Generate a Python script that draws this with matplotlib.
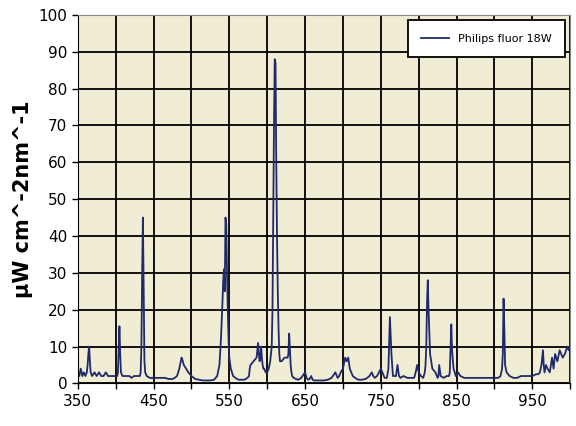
import matplotlib
matplotlib.use("Agg")
import matplotlib.pyplot as plt

spectrum = [
(350,3),(352,2),(354,4),(356,2),(358,3),(360,2),(362,3),(363,5),(364,8),(365,10),(366,6),(367,3),
(369,2),(372,3),(375,2),(378,3),(381,2),(384,2),(387,3),(390,2),(393,2),(396,2),(399,2),(402,2),
(403,3),(404,9),(405,15.5),(406,8),(407,3),(409,2),(412,2),(415,2),(418,2),(421,1.5),(424,2),(427,2),
(430,2),(432,2),(433,3),(434,10),(435,30),(436,45),(437,25),(438,6),(439,3),(441,2),(445,1.5),(450,1.5),
(455,1.5),(460,1.5),(465,1.5),(470,1.2),(475,1.2),(478,1.5),(481,2),(484,4),(486,6),(487,7),(488,6.5),
(490,5),(493,4),(496,3),(500,2),(505,1.2),(510,1),(515,0.8),(520,0.8),(525,0.8),(530,1),(534,2),
(537,5),(539,12),(541,22),(542,28),(543,31),(544,25),(545,45),(546,43),(547,30),(548,20),(549,12),
(550,7),(552,4),(555,2),(558,1.5),(562,1),(566,1),(570,1),(574,1.5),(576,2),(577,4),(578,5),(580,5.5),
(582,6),(584,6.5),(586,7),(587,9),(588,11),(589,8),(590,6),(591,7),(592,10),(593,7),(594,5),(595,4),
(596,4),(598,3),(600,3),(602,4),(604,6),(606,10),(607,20),(608,45),(609,70),(610,88),(611,87),(612,60),
(613,40),(614,25),(615,15),(616,8),(617,6),(619,6),(621,6.5),(623,7),(625,7),(627,7),(628,8),(629,13.5),
(630,9),(631,5),(632,3),(633,2),(635,1.5),(638,1.2),(641,1),(645,1.5),(650,3),(652,1.5),(654,1),
(656,1.2),(658,2),(660,1),(662,0.8),(664,0.8),(666,0.8),(670,0.8),(675,0.8),(680,1),(685,1.5),(690,3),
(693,1.5),(695,2),(697,3),(700,4),(703,7),(705,6),(707,7),(709,4),(711,3),(713,2),(716,1.5),(720,1),
(725,1),(730,1.2),(735,2),(738,3),(740,2),(742,1.5),(745,2),(750,4),(755,1.5),(758,1.5),(760,4),
(762,18),(764,8),(766,2),(770,2),(772,5),(774,2),(776,1.5),(780,2),(785,1.5),(790,1.5),(794,1.5),
(796,3),(798,5),(800,3),(803,2),(806,1.5),(808,3),(809,5),(810,10),(811,22),(812,28),(813,20),(815,8),
(818,4),(822,3),(825,1.5),(826,2),(827,5),(829,2),(833,1.5),(837,2),(840,2),(841,3),(842,10),(843,16),
(844,9),(846,4),(849,2),(852,3),(855,2),(860,1.5),(865,1.5),(870,1.5),(875,1.5),(880,1.5),(885,1.5),
(890,1.5),(895,1.5),(900,1.5),(905,1.5),(908,2),(910,4),(911,8),(912,23),(913,15),(914,5),(916,3),
(920,2),(925,1.5),(930,1.5),(935,2),(940,2),(945,2),(950,2),(955,2.5),(958,2.5),(960,3),(962,5),
(964,9),(965,5),(966,3),(968,5),(970,4),(973,3),(976,7),(978,4),(980,8),(983,6),(986,9),(990,7),
(993,8),(996,10),(998,9),(1000,10)]
wavelength = [p[0] for p in spectrum]
intensity = [p[1] for p in spectrum]

fig = plt.figure(figsize=(5.76, 4.26), dpi=100)
ax = fig.add_axes([0.135, 0.10, 0.855, 0.865])
ax.set_facecolor("#F1ECD4")
ax.plot(wavelength, intensity, color="#1F2A6B", lw=1.3, label="Philips fluor 18W")
ax.set_xlim(350, 1000)
ax.set_ylim(0, 100)
ax.set_xticks(range(350, 1001, 50))
ax.set_xticklabels([str(v) if (v - 350) % 100 == 0 else "" for v in range(350, 1001, 50)])
ax.set_yticks(range(0, 101, 10))
ax.grid(True, color="black", lw=1.3)
ax.tick_params(length=4, width=1, labelsize=11)
for s in ax.spines.values():
    s.set_color("#888888")
ax.spines["left"].set_color("black")
ax.spines["bottom"].set_color("black")
ax.set_ylabel("µW cm^-2nm^-1", fontsize=15, fontweight="bold")
leg = ax.legend(loc="upper right", fontsize=8, fancybox=False, framealpha=1,
                edgecolor="black", borderpad=1.2, handlelength=2.5)
leg.get_frame().set_linewidth(1.3)
fig.savefig("out.png", dpi=100)
